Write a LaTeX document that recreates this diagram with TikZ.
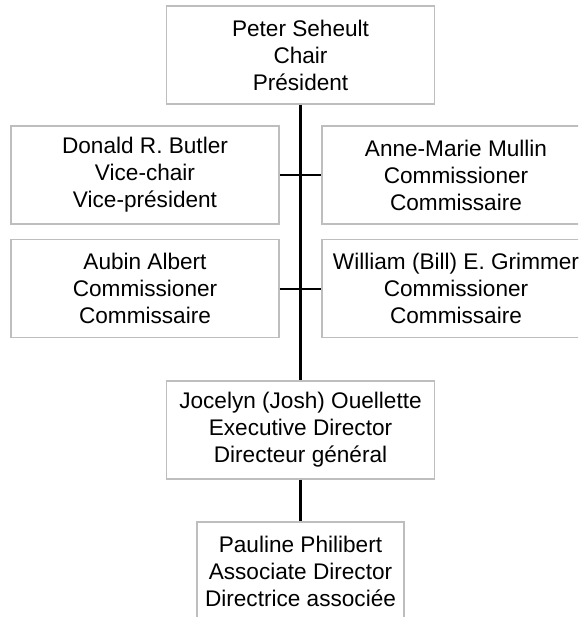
\documentclass[tikz,border=0pt]{standalone}
\usepackage{fontspec}
\setmainfont{Liberation Sans}
\begin{document}
\begin{tikzpicture}[x=1pt,y=-1pt,
  box/.style={draw={rgb,255:red,190;green,190;blue,190}, line width=1.1pt, rectangle,
    minimum height=98pt, inner sep=0pt, align=center, fill=white,
    font={\fontsize{22.6}{27}\selectfont}},
  wide/.style={box, minimum width=268pt},
  narrow/.style={box, minimum width=207pt},
  trunk/.style={line width=2.2pt, black},
  branch/.style={line width=2pt, black}]
\useasboundingbox (0,0) rectangle (578,617);
\clip (0,0) rectangle (578,617);
\fill[white] (0,0) rectangle (578,617);
\node[wide] (chair) at (300.5,55) {Peter Seheult\\Chair\\Président};
\node[wide] (vice) at (145,175) {Donald R. Butler\\Vice-chair\\Vice-président};
\node[wide] (anne) at (456,175) {Anne-Marie Mullin\\Commissioner\\Commissaire};
\node[wide] (aubin) at (145,288.5) {Aubin Albert\\Commissioner\\Commissaire};
\node[wide] (bill) at (456,288.5) {William (Bill) E. Grimmer\\Commissioner\\Commissaire};
\node[wide] (exec) at (300.5,430) {Jocelyn (Josh) Ouellette\\Executive Director\\Directeur général};
\node[narrow] (assoc) at (300.5,571) {Pauline Philibert\\Associate Director\\Directrice associée};
\draw[branch] (vice.east) -- (anne.west);
\draw[branch] (aubin.east) -- (bill.west);
\draw[trunk] (chair.south) -- (exec.north);
\draw[trunk] (exec.south) -- (assoc.north);
\end{tikzpicture}
\end{document}
